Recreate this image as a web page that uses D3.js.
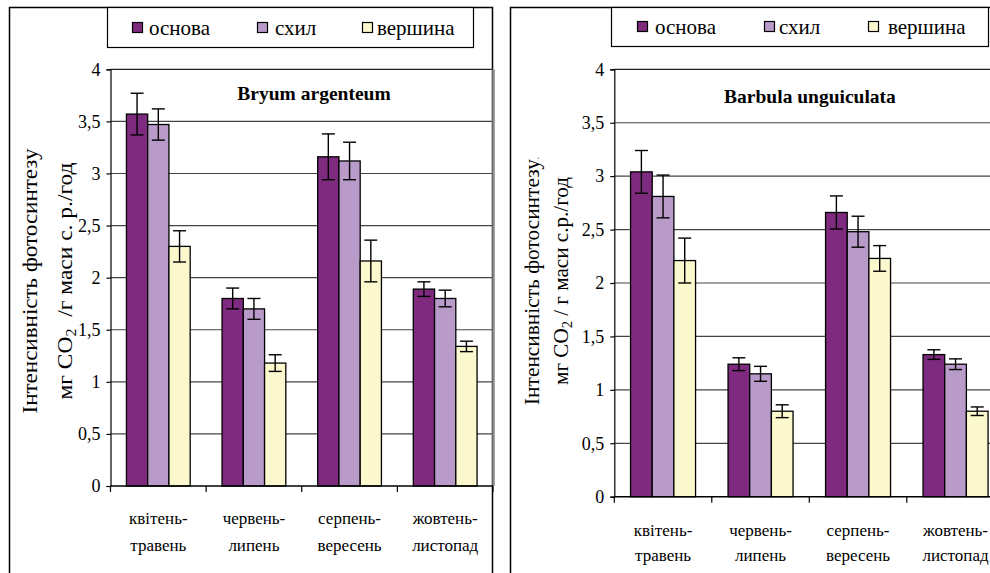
<!DOCTYPE html>
<html><head><meta charset="utf-8">
<script src="https://cdn.jsdelivr.net/npm/d3@7"></script>
<style>
svg text, svg tspan { font-family: "Liberation Serif", "Times New Roman", Tinos, serif !important; }
</style>
</head><body style="margin:0;background:#fff">
<svg id="c" width="990" height="573" font-family="Liberation Serif, Times New Roman, serif" style="display:block"></svg>
<script>
// ---- data ----
const categories = [["квітень-","травень"],["червень-","липень"],["серпень-","вересень"],["жовтень-","листопад"]];
const seriesNames = ["основа","схил","вершина"];
const yTicks = [0,0.5,1,1.5,2,2.5,3,3.5,4];
const yTickLabels = ["0","0,5","1","1,5","2","2,5","3","3,5","4"];

const bryumBase  = [3.57,1.80,3.16,1.89];
const bryumSlope = [3.47,1.70,3.12,1.80];
const bryumTop   = [2.30,1.18,2.16,1.34];
const bryumBaseErr  = [0.20,0.10,0.22,0.07];
const bryumSlopeErr = [0.15,0.10,0.18,0.08];
const bryumTopErr   = [0.15,0.08,0.20,0.05];

const barbulaBase  = [3.04,1.24,2.66,1.33];
const barbulaSlope = [2.81,1.15,2.48,1.24];
const barbulaTop   = [2.21,0.80,2.23,0.80];
const barbulaBaseErr  = [0.20,0.06,0.155,0.045];
const barbulaSlopeErr = [0.20,0.07,0.145,0.05];
const barbulaTopErr   = [0.21,0.06,0.12,0.04];

const titles = ["Bryum argenteum","Barbula unguiculata"];
const colors = ["#7E2A7E","#B89BC9","#FCF8CE"];
const FONT = "Liberation Serif, Times New Roman, serif";

// ---- layout ----
const layouts = [
  {outer:[9.5,7.5,483,640], legend:[107.5,7.5,366,40], sqX:[132,257,362], txX:[149,275,377], sqY:22, txY:35,
   px0:110.5, px1:493, py0:69.3, py1:486, title:[314,100],
   yl:{x1:37,x2:72,cy:281,len1:265,len2:237}, catY:[524,551],
   yl2parts:["мг CO","2","  /г маси с. р./год"], yl1extra:""},
  {outer:[510.5,7.5,640,640], legend:[611.5,7.5,377,39], sqX:[637,764,868], txX:[655,779,888], sqY:21, txY:34,
   px0:614.3, px1:1004.3, py0:69.3, py1:496.7, title:[810,103],
   yl:{x1:539,x2:568,cy:281,len1:248,len2:208}, catY:[536,561],
   yl2parts:["мг CO","2"," / г маси с.р./год"], yl1extra:"."}
];

const svg = d3.select("#c");
function txt(sel){ return sel.attr("font-family",FONT).style("font-family",FONT); }

function drawChart(L, series, errs, title){
  const g = svg.append("g").attr("font-family",FONT);
  g.append("rect").attr("x",L.outer[0]).attr("y",L.outer[1]).attr("width",L.outer[2]).attr("height",L.outer[3])
    .attr("fill","#fff").attr("stroke","#000").attr("stroke-width",1.5);

  const y = d3.scaleLinear().domain([0,4]).range([L.py1,L.py0]);
  const xc = d3.scaleBand().domain(d3.range(categories.length)).range([L.px0,L.px1]).paddingInner(1/3).paddingOuter(1/6);
  const xs = d3.scaleBand().domain(d3.range(series.length)).range([0,xc.bandwidth()]);
  const xb = d3.scaleLinear().domain([0,categories.length]).range([L.px0,L.px1]);

  g.append("g").selectAll("line").data(yTicks.filter(d=>d>0)).join("line")
    .attr("x1",L.px0).attr("x2",L.px1).attr("y1",d=>y(d)).attr("y2",d=>y(d))
    .attr("stroke",d=>d===4?"#222":"#444").attr("stroke-width",1.2);
  g.append("line").attr("x1",L.px1+0.5).attr("x2",L.px1+0.5).attr("y1",L.py0).attr("y2",L.py1)
    .attr("stroke","#8a8a8a").attr("stroke-width",2.5);

  series.forEach((vals,si)=>{
    g.append("g").selectAll("rect").data(vals).join("rect")
      .attr("x",(d,i)=>xc(i)+xs(si)).attr("width",xs.bandwidth())
      .attr("y",d=>y(d)).attr("height",d=>y(0)-y(d))
      .attr("fill",colors[si]).attr("stroke","#000").attr("stroke-width",1.3);
  });
  series.forEach((vals,si)=>{
    const eg = g.append("g").attr("stroke","#000").attr("stroke-width",1.4);
    vals.forEach((v,i)=>{
      const cx = xc(i)+xs(si)+xs.bandwidth()/2, e = errs[si][i];
      eg.append("line").attr("x1",cx).attr("x2",cx).attr("y1",y(v+e)).attr("y2",y(v-e));
      [v+e,v-e].forEach(t=>eg.append("line").attr("x1",cx-6.5).attr("x2",cx+6.5).attr("y1",y(t)).attr("y2",y(t)));
    });
  });

  const ya = d3.axisLeft(y).tickValues(yTicks).tickFormat((d,i)=>yTickLabels[i]).tickSize(4).tickPadding(6);
  const yg = g.append("g").attr("transform",`translate(${L.px0},0)`).call(ya);
  yg.attr("font-family",FONT).attr("font-size",18);
  yg.select(".domain").attr("stroke","#000").attr("stroke-width",1.2);
  yg.selectAll(".tick line").attr("stroke","#000").attr("stroke-width",1.2);
  txt(yg.selectAll(".tick text")).attr("font-size",18).attr("fill","#000");

  g.append("line").attr("x1",L.px0).attr("x2",L.px1).attr("y1",L.py1).attr("y2",L.py1).attr("stroke","#000").attr("stroke-width",1.4);
  g.append("g").selectAll("line").data(d3.range(categories.length+1)).join("line")
    .attr("x1",d=>xb(d)).attr("x2",d=>xb(d)).attr("y1",L.py1).attr("y2",L.py1+6).attr("stroke","#000").attr("stroke-width",1.2);
  const cl = txt(g.append("g").selectAll("text").data(categories).join("text"))
    .attr("text-anchor","middle").attr("font-size",17);
  cl.each(function(d,i){
    const t = d3.select(this);
    d.forEach((line,li)=>t.append("tspan").attr("x",xb(i+0.5)).attr("y",L.catY[li]).text(line));
  });

  txt(g.append("text")).attr("x",L.title[0]).attr("y",L.title[1]).attr("text-anchor","middle")
    .attr("font-size",19.5).attr("font-weight","bold").text(title);

  const yl1 = txt(g.append("text")).attr("transform",`translate(${L.yl.x1},${L.yl.cy}) rotate(-90)`)
    .attr("text-anchor","middle").attr("font-size",22)
    .attr("textLength",L.yl.len1).attr("lengthAdjust","spacingAndGlyphs");
  yl1.append("tspan").text("Інтенсивність фотосинтезу");
  if (L.yl1extra) yl1.append("tspan").attr("font-size",9).text(L.yl1extra);
  const yl2 = txt(g.append("text")).attr("transform",`translate(${L.yl.x2},${L.yl.cy}) rotate(-90)`)
    .attr("text-anchor","middle").attr("font-size",22).style("white-space","pre")
    .attr("textLength",L.yl.len2).attr("lengthAdjust","spacingAndGlyphs");
  yl2.append("tspan").text(L.yl2parts[0]);
  yl2.append("tspan").attr("font-size",15).attr("dy",4).text(L.yl2parts[1]);
  yl2.append("tspan").attr("dy",-4).text(L.yl2parts[2]);

  g.append("rect").attr("x",L.legend[0]).attr("y",L.legend[1]).attr("width",L.legend[2]).attr("height",L.legend[3])
    .attr("fill","#fff").attr("stroke","#000").attr("stroke-width",1.2);
  seriesNames.forEach((n,si)=>{
    g.append("rect").attr("x",L.sqX[si]+0.5).attr("y",L.sqY+0.5).attr("width",10).attr("height",10)
      .attr("fill",colors[si]).attr("stroke","#000").attr("stroke-width",1.2);
    txt(g.append("text")).attr("x",L.txX[si]).attr("y",L.txY).attr("font-size",21).text(n);
  });
}

drawChart(layouts[0],[bryumBase,bryumSlope,bryumTop],[bryumBaseErr,bryumSlopeErr,bryumTopErr],titles[0]);
drawChart(layouts[1],[barbulaBase,barbulaSlope,barbulaTop],[barbulaBaseErr,barbulaSlopeErr,barbulaTopErr],titles[1]);
</script>
</body></html>
